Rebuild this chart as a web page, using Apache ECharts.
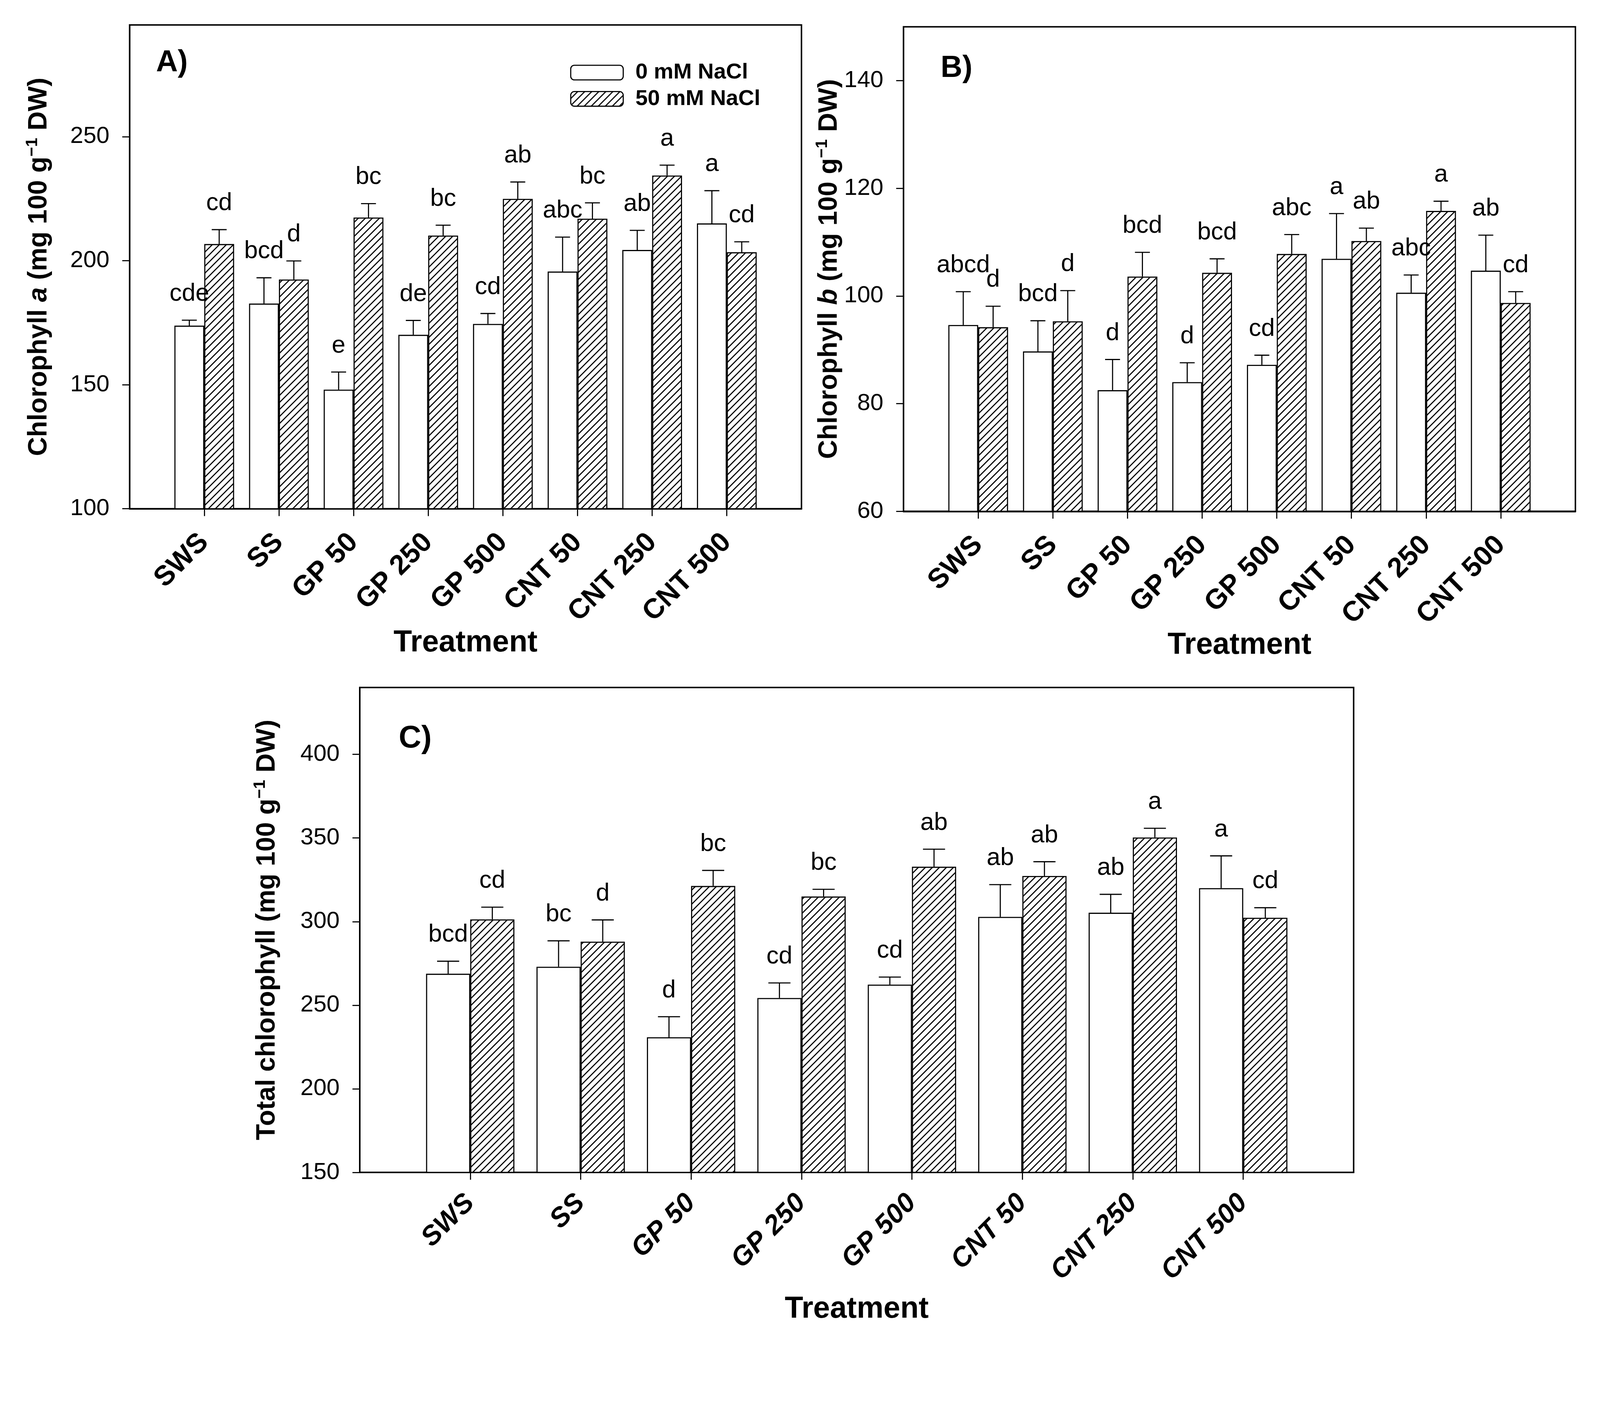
<!DOCTYPE html>
<html>
<head>
<meta charset="utf-8">
<script src="https://cdn.jsdelivr.net/npm/echarts@6/dist/echarts.min.js"></script>
<style>html,body{margin:0;padding:0;background:#fff;overflow:hidden;}#c{width:100vw;height:100vh;}</style>
</head>
<body>
<div id="c"></div>
<script>
// ---------- data ----------
const categories = ['SWS', 'SS', 'GP 50', 'GP 250', 'GP 500', 'CNT 50', 'CNT 250', 'CNT 500'];
const seriesNames = ['0 mM NaCl', '50 mM NaCl'];

const chlA_0 = [173.8, 182.7, 148.0, 170.1, 174.5, 195.6, 204.3, 215.0];
const chlA_0_err = [2.2, 10.4, 7.1, 5.8, 4.2, 13.9, 7.9, 13.2];
const chlA_50 = [206.7, 192.4, 217.4, 210.1, 224.9, 216.9, 234.3, 203.4];
const chlA_50_err = [5.8, 7.5, 5.6, 4.2, 6.8, 6.4, 4.2, 4.2];
const chlA_0_letters = ['cde', 'bcd', 'e', 'de', 'cd', 'abc', 'ab', 'a'];
const chlA_50_letters = ['cd', 'd', 'bc', 'bc', 'ab', 'bc', 'a', 'cd'];

const chlB_0 = [94.6, 89.7, 82.5, 84.0, 87.2, 106.9, 100.6, 104.7];
const chlB_0_err = [6.2, 5.7, 5.7, 3.6, 1.8, 8.4, 3.3, 6.6];
const chlB_50 = [94.2, 95.3, 103.6, 104.3, 107.8, 110.2, 115.8, 98.7];
const chlB_50_err = [3.9, 5.7, 4.5, 2.6, 3.6, 2.4, 1.8, 2.1];
const chlB_0_letters = ['abcd', 'bcd', 'd', 'd', 'cd', 'a', 'abc', 'ab'];
const chlB_50_letters = ['d', 'd', 'bcd', 'bcd', 'abc', 'ab', 'a', 'cd'];

const tot_0 = [268.8, 273.0, 230.8, 254.3, 262.3, 302.8, 305.3, 320.0];
const tot_0_err = [7.5, 15.5, 12.3, 9.0, 4.5, 19.3, 11.0, 19.3];
const tot_50 = [301.3, 288.0, 321.3, 315.0, 332.8, 327.3, 350.3, 302.3];
const tot_50_err = [7.3, 13.0, 9.3, 4.3, 10.5, 8.5, 5.5, 6.0];
const tot_0_letters = ['bcd', 'bc', 'd', 'cd', 'cd', 'ab', 'ab', 'a'];
const tot_50_letters = ['cd', 'd', 'bc', 'bc', 'ab', 'ab', 'a', 'cd'];

const ticksA = [100, 150, 200, 250];
const ticksB = [60, 80, 100, 120, 140];
const ticksC = [150, 200, 250, 300, 350, 400];

// ---------- layout scale (design space is 4358 x 3636) ----------
const el = document.getElementById('c');
const S = Math.min(el.clientWidth / 4358, el.clientHeight / 3636);
function px(v) { return v * S; }
const FF = '"Liberation Sans", Arial, sans-serif';

function makeHatch() {
  const s = Math.max(6, Math.round(px(19)));
  const cv = document.createElement('canvas');
  cv.width = s; cv.height = s;
  const ctx = cv.getContext('2d');
  ctx.fillStyle = '#fff';
  ctx.fillRect(0, 0, s, s);
  ctx.strokeStyle = '#000';
  ctx.lineWidth = px(3);
  ctx.beginPath();
  ctx.moveTo(-2, s + 2); ctx.lineTo(s + 2, -2);
  ctx.moveTo(-2, 2); ctx.lineTo(2, -2);
  ctx.moveTo(s - 2, s + 2); ctx.lineTo(s + 2, s - 2);
  ctx.stroke();
  return cv;
}
const hatch = { image: makeHatch(), repeat: 'repeat' };

// padded category list: one empty slot on each side
const xData = [''].concat(categories, ['']);
function pad(arr) { return [null].concat(arr, [null]); }

function yName(prefix, italic) {
  return '{b|' + prefix + '}' + (italic ? '{bi|' + italic + '}' : '') + '{b| (mg 100 g}{sup|\u22121}{b| DW)}';
}
const nameRich = {
  b: { fontSize: px(72), fontWeight: 'bold', fontFamily: FF, color: '#000', lineHeight: px(82) },
  bi: { fontSize: px(72), fontWeight: 'bold', fontStyle: 'italic', fontFamily: FF, color: '#000', lineHeight: px(82) },
  sup: { fontSize: px(45), fontWeight: 'bold', fontFamily: FF, color: '#000', verticalAlign: 'top', lineHeight: px(45) }
};

const gridsDesign = [
  { left: 353, top: 68, width: 1830, height: 1318 },
  { left: 2461, top: 73, width: 1830, height: 1320 },
  { left: 980, top: 1873, width: 2707, height: 1321 }
];

function xAxis(gi, italic, margin, nameGap) {
  return {
    gridIndex: gi, type: 'category', data: xData, boundaryGap: false,
    axisLine: { show: true, lineStyle: { color: '#000', width: px(4) } },
    axisTick: { show: true, length: px(20), lineStyle: { color: '#000', width: px(3) },
      interval: function (i) { return i >= 1 && i <= categories.length; } },
    axisLabel: { interval: 0, rotate: 45, margin: px(margin), fontSize: px(italic ? 74 : 76), fontWeight: 'bold',
      fontStyle: italic ? 'italic' : 'normal', fontFamily: FF, color: '#000' },
    splitLine: { show: false },
    name: 'Treatment', nameLocation: 'middle', nameGap: px(nameGap),
    nameTextStyle: { fontSize: px(82), fontWeight: 'bold', fontFamily: FF, color: '#000' }
  };
}
function yAxis(gi, min, max, interval, ticks, name, nameGap) {
  return {
    gridIndex: gi, type: 'value', min: min, max: max, interval: interval,
    axisLine: { show: true, lineStyle: { color: '#000', width: px(4) } },
    axisTick: { show: true, length: px(20), lineStyle: { color: '#000', width: px(3) }, customValues: ticks },
    axisLabel: { customValues: ticks, fontSize: px(64), fontFamily: FF, color: '#000', margin: px(55) },
    splitLine: { show: false },
    name: name, nameLocation: 'middle', nameRotate: 90, nameGap: px(nameGap),
    nameTextStyle: { rich: nameRich }
  };
}

function barSeries(gi, idx, values) {
  return {
    type: 'bar', name: seriesNames[idx], xAxisIndex: gi, yAxisIndex: gi,
    data: pad(values), barWidth: '40%', barGap: '0%',
    itemStyle: { color: idx === 0 ? '#fff' : hatch, borderColor: '#000', borderWidth: px(3) },
    emphasis: { disabled: true }, z: 2
  };
}
function errSeries(gi, idx, values, errs, letters) {
  const data = values.map(function (v, i) { return [i + 1, v, errs[i]]; });
  const sign = idx === 0 ? -1 : 1;
  return {
    type: 'custom', name: 'err' + gi + '_' + idx, xAxisIndex: gi, yAxisIndex: gi,
    data: data, encode: { x: 0, y: 1 }, z: 5, silent: true,
    renderItem: function (params, api) {
      const x = api.value(0), v = api.value(1), e = api.value(2);
      const band = api.size([1, 0])[0];
      const p0 = api.coord([x, v]);
      const p1 = api.coord([x, v + e]);
      const cx = p0[0] + sign * band * 0.2;
      const cap = band * 0.1;
      return {
        type: 'group',
        children: [
          { type: 'line', shape: { x1: cx, y1: p0[1], x2: cx, y2: p1[1] }, style: { stroke: '#000', lineWidth: px(3) } },
          { type: 'line', shape: { x1: cx - cap, y1: p1[1], x2: cx + cap, y2: p1[1] }, style: { stroke: '#000', lineWidth: px(3) } },
          { type: 'text', style: { text: letters[params.dataIndex], x: cx, y: p1[1] - px(38),
            align: 'center', verticalAlign: 'bottom', fontSize: px(67), fontFamily: FF, fill: '#000' } }
        ]
      };
    }
  };
}

function panelLabel(t, x, y, fs) {
  return { type: 'text', style: { text: t, x: px(x), y: px(y), verticalAlign: 'bottom', fontSize: px(fs),
    fontWeight: 'bold', fontFamily: FF, fill: '#000' } };
}

const chart = echarts.init(el, null, { renderer: 'canvas' });
chart.setOption({
  animation: false,
  backgroundColor: '#fff',
  grid: gridsDesign.map(function (g) {
    return { show: true, borderColor: '#000', borderWidth: px(4), backgroundColor: 'transparent',
      containLabel: false, outerBoundsMode: 'none',
      left: px(g.left), top: px(g.top), width: px(g.width), height: px(g.height) };
  }),
  xAxis: [xAxis(0, false, 80, 318), xAxis(1, false, 80, 318), xAxis(2, true, 72, 332)],
  yAxis: [
    yAxis(0, 100, 295, 50, ticksA, yName('Chlorophyll ', 'a'), 205),
    yAxis(1, 60, 150, 20, ticksB, yName('Chlorophyll ', 'b'), 157),
    yAxis(2, 150, 440, 50, ticksC, yName('Total chlorophyll', null), 211)
  ],
  legend: {
    data: seriesNames, orient: 'vertical', left: px(1553), top: px(168), padding: 0,
    itemWidth: px(143), itemHeight: px(40), itemGap: px(12), selectedMode: false,
    itemStyle: { borderColor: '#000', borderWidth: px(3) },
    textStyle: { fontSize: px(60), fontWeight: 'bold', fontFamily: FF, color: '#000', padding: [0, 0, 0, px(28)] }
  },
  graphic: [
    panelLabel('A)', 425, 213, 82),
    panelLabel('B)', 2562, 228, 82),
    panelLabel('C)', 1086, 2056, 85)
  ],
  series: [
    barSeries(0, 0, chlA_0), barSeries(0, 1, chlA_50),
    barSeries(1, 0, chlB_0), barSeries(1, 1, chlB_50),
    barSeries(2, 0, tot_0), barSeries(2, 1, tot_50),
    errSeries(0, 0, chlA_0, chlA_0_err, chlA_0_letters), errSeries(0, 1, chlA_50, chlA_50_err, chlA_50_letters),
    errSeries(1, 0, chlB_0, chlB_0_err, chlB_0_letters), errSeries(1, 1, chlB_50, chlB_50_err, chlB_50_letters),
    errSeries(2, 0, tot_0, tot_0_err, tot_0_letters), errSeries(2, 1, tot_50, tot_50_err, tot_50_letters)
  ]
});
</script>
</body>
</html>
